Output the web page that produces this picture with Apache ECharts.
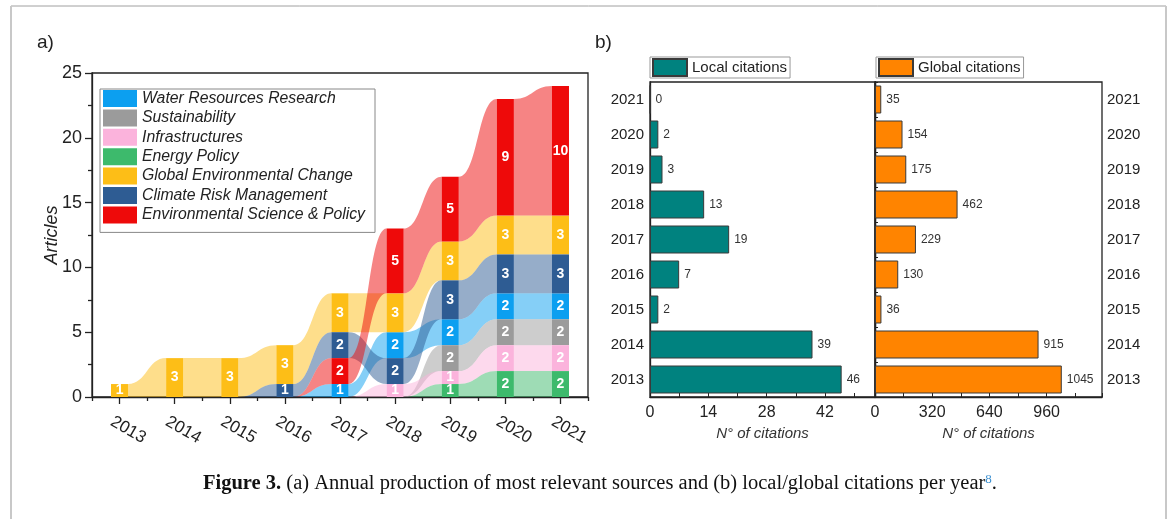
<!DOCTYPE html>
<html>
<head>
<meta charset="utf-8">
<script src="https://cdn.jsdelivr.net/npm/echarts@6/dist/echarts.min.js"></script>
<style>
  html, body { margin: 0; padding: 0; background: #fff; }
  #chart { width: 1170px; height: 519px; }
</style>
</head>
<body>
<div id="chart"></div>
<script>
// ---------------- DATA ----------------
const years = ['2013', '2014', '2015', '2016', '2017', '2018', '2019', '2020', '2021'];

const journals = ['Water Resources Research', 'Sustainability', 'Infrastructures', 'Energy Policy',
  'Global Environmental Change', 'Climate Risk Management', 'Environmental Science & Policy'];

// articles per year for each journal
const waterResources  = [0, 0, 0, 0, 1, 2, 2, 2, 2];
const sustainability  = [0, 0, 0, 0, 0, 0, 2, 2, 2];
const infrastructures = [0, 0, 0, 0, 0, 1, 1, 2, 2];
const energyPolicy    = [0, 0, 0, 0, 0, 0, 1, 2, 2];
const globalEnvChange = [1, 3, 3, 3, 3, 3, 3, 3, 3];
const climateRisk     = [0, 0, 0, 1, 2, 2, 3, 3, 3];
const envSciPolicy    = [0, 0, 0, 0, 2, 5, 5, 9, 10];

// stacking order in each year, bottom -> top (indices into journals)
const stackOrder = [
  [4], [4], [4], [5, 4], [0, 6, 5, 4], [2, 5, 0, 4, 6],
  [3, 2, 1, 0, 5, 4, 6], [3, 2, 1, 0, 5, 4, 6], [3, 2, 1, 0, 5, 4, 6]
];

const localCitations  = [46, 39, 2, 7, 19, 13, 3, 2, 0];
const globalCitations = [1045, 915, 36, 130, 229, 462, 175, 154, 35];

// ---------------- STYLE ----------------
const journalColors = ['#0c9ff0', '#9b9b9b', '#fbb3dc', '#3dba6c', '#fdbe17', '#2e5c93', '#ee0a0a'];
const FONT = 'Liberation Sans, Arial, sans-serif';

const values = [waterResources, sustainability, infrastructures, energyPolicy, globalEnvChange, climateRisk, envSciPolicy];
// base (bottom) of each journal in each year
const base = values.map(() => years.map(() => 0));
stackOrder.forEach((order, i) => {
  let acc = 0;
  order.forEach(j => { base[j][i] = acc; acc += values[j][i]; });
});

const chart = echarts.init(document.getElementById('chart'), null, { renderer: 'canvas' });

function ribbonRender(j) {
  return function (params, api) {
    const i = api.value(0);
    const band = api.size([1, 0])[0];
    const half = band * 0.155;
    const children = [];
    function seg(i0, b0, t0, i1, b1, t1) {
      const xa = api.coord([i0, 0])[0] + half;
      const xb = api.coord([i1, 0])[0] - half;
      const yb0 = api.coord([i0, b0])[1], yt0 = api.coord([i0, t0])[1];
      const yb1 = api.coord([i1, b1])[1], yt1 = api.coord([i1, t1])[1];
      const xm = (xa + xb) / 2;
      const d = 'M' + xa + ',' + yt0 + ' C' + xm + ',' + yt0 + ' ' + xm + ',' + yt1 + ' ' + xb + ',' + yt1 +
        ' L' + xb + ',' + yb1 + ' C' + xm + ',' + yb1 + ' ' + xm + ',' + yb0 + ' ' + xa + ',' + yb0 + ' Z';
      children.push({ type: 'path', shape: { pathData: d }, style: { fill: journalColors[j], opacity: 0.5 } });
    }
    const v = values[j][i];
    if (v > 0 && i + 1 < years.length && values[j][i + 1] > 0) {
      seg(i, base[j][i], base[j][i] + v, i + 1, base[j][i + 1], base[j][i + 1] + values[j][i + 1]);
    }
    if (v > 0 && i > 0 && values[j][i - 1] === 0) {
      seg(i - 1, 0, 0, i, base[j][i], base[j][i] + v);
    }
    return { type: 'group', children: children };
  };
}

function barRender(j) {
  return function (params, api) {
    const i = api.value(0);
    const v = values[j][i];
    if (!v) return null;
    const band = api.size([1, 0])[0];
    const w = band * 0.31;
    const cx = api.coord([i, 0])[0];
    const yTop = api.coord([i, base[j][i] + v])[1];
    const yBot = api.coord([i, base[j][i]])[1];
    return {
      type: 'rect',
      shape: { x: cx - w / 2, y: yTop, width: w, height: yBot - yTop },
      style: { fill: journalColors[j] },
      textContent: { type: 'text', style: { text: String(v), fill: '#fff', font: 'bold 14px ' + FONT } },
      textConfig: { position: 'inside' }
    };
  };
}

const series = [];
journals.forEach((name, j) => {
  const data = years.map((y, i) => [i, values[j][i]]).filter(d => d[1] > 0);
  series.push({
    type: 'custom', name: name, xAxisIndex: 0, yAxisIndex: 0, z: 1,
    itemStyle: { color: journalColors[j] },
    renderItem: ribbonRender(j), data: data, clip: false
  });
});
journals.forEach((name, j) => {
  const data = years.map((y, i) => [i, values[j][i]]).filter(d => d[1] > 0);
  series.push({
    type: 'custom', name: name, xAxisIndex: 0, yAxisIndex: 0, z: 3,
    itemStyle: { color: journalColors[j] },
    renderItem: barRender(j), data: data, clip: false
  });
});
series.push({
  type: 'bar', name: 'Local citations', xAxisIndex: 2, yAxisIndex: 1,
  data: localCitations, barWidth: '80%',
  itemStyle: { color: '#00827f', borderColor: '#3a3a3a', borderWidth: 1 },
  label: { show: true, position: 'right', distance: 5, color: '#333', fontSize: 12, fontFamily: FONT }
});
series.push({
  type: 'bar', name: 'Global citations', xAxisIndex: 3, yAxisIndex: 2,
  data: globalCitations, barWidth: '80%',
  itemStyle: { color: '#ff8400', borderColor: '#3a3a3a', borderWidth: 1 },
  label: { show: true, position: 'right', distance: 5, color: '#333', fontSize: 12, fontFamily: FONT }
});

const axisLine = { show: true, lineStyle: { color: '#222', width: 1.3 } };

const option = {
  animation: false,
  textStyle: { fontFamily: FONT },
  grid: [
    { left: 92, top: 73, width: 496, height: 324, show: true, borderColor: '#222', borderWidth: 1.3, backgroundColor: 'transparent' },
    { left: 650, top: 82, width: 225, height: 315, show: true, borderColor: '#222', borderWidth: 1.3, backgroundColor: 'transparent' },
    { left: 875, top: 82, width: 227, height: 315, show: true, borderColor: '#222', borderWidth: 1.3, backgroundColor: 'transparent' }
  ],
  xAxis: [
    { type: 'category', gridIndex: 0, data: years, boundaryGap: true,
      axisLine: axisLine,
      axisTick: { show: true, alignWithLabel: true, length: 7, lineStyle: { color: '#222', width: 1.3 } },
      axisLabel: { fontSize: 17, color: '#222', rotate: -30, align: 'center', verticalAlign: 'middle',
        margin: 28, padding: [0, 0, 0, 20] },
      splitLine: { show: false } },
    { type: 'category', gridIndex: 0, data: years, boundaryGap: true, position: 'bottom',
      axisLine: { show: false },
      axisTick: { show: true, alignWithLabel: false, length: 4, lineStyle: { color: '#222', width: 1.3 } },
      axisLabel: { show: false }, splitLine: { show: false } },
    { type: 'value', gridIndex: 1, min: 0, max: 54, interval: 7,
      axisLine: axisLine,
      axisTick: { show: true, inside: true, length: 4, lineStyle: { color: '#222' } },
      axisLabel: { fontSize: 16, color: '#222', margin: 8, formatter: v => (v % 14 === 0 ? String(v) : '') },
      splitLine: { show: false },
      name: 'N° of citations', nameLocation: 'middle', nameGap: 28,
      nameTextStyle: { fontStyle: 'italic', fontSize: 15, color: '#333' } },
    { type: 'value', gridIndex: 2, min: 0, max: 1270, interval: 160,
      axisLine: axisLine,
      axisTick: { show: true, inside: true, length: 4, lineStyle: { color: '#222' } },
      axisLabel: { fontSize: 16, color: '#222', margin: 8, formatter: v => (v % 320 === 0 ? String(v) : '') },
      splitLine: { show: false },
      name: 'N° of citations', nameLocation: 'middle', nameGap: 28,
      nameTextStyle: { fontStyle: 'italic', fontSize: 15, color: '#333' } }
  ],
  yAxis: [
    { type: 'value', gridIndex: 0, min: 0, max: 25, interval: 5,
      axisLine: axisLine,
      axisTick: { show: true, length: 7, lineStyle: { color: '#222', width: 1.3 } },
      minorTick: { show: true, splitNumber: 2, length: 4, lineStyle: { color: '#222', width: 1.3 } },
      axisLabel: { fontSize: 18, color: '#222', margin: 10 },
      splitLine: { show: false },
      name: 'Articles', nameLocation: 'middle', nameGap: 31, nameMoveOverlap: false,
      nameTextStyle: { fontStyle: 'italic', fontSize: 18, color: '#222' } },
    { type: 'category', gridIndex: 1, data: years,
      axisLine: axisLine, axisTick: { show: false },
      axisLabel: { fontSize: 15, color: '#222', margin: 6 } },
    { type: 'category', gridIndex: 2, data: years, position: 'right',
      axisLine: axisLine, axisTick: { show: false },
      axisLabel: { fontSize: 15, color: '#222', margin: 5 } },
    { type: 'category', gridIndex: 2, data: years, position: 'left',
      axisLine: axisLine,
      axisTick: { show: true, inside: true, length: 3, lineStyle: { color: '#222' } },
      axisLabel: { show: false } }
  ],
  legend: [
    { data: journals, orient: 'vertical', left: 100, top: 89, icon: 'rect',
      itemWidth: 34, itemHeight: 17, itemGap: 2.4, padding: [1, 10, 9, 3],
      borderColor: '#888', borderWidth: 1, selectedMode: false,
      textStyle: { fontSize: 15.8, fontStyle: 'italic', color: '#222', fontFamily: FONT } },
    { data: ['Local citations'], left: 650, top: 57, icon: 'rect',
      itemWidth: 34, itemHeight: 17, padding: [1, 3, 1, 2], borderColor: '#999', borderWidth: 1, selectedMode: false,
      textStyle: { fontSize: 15, color: '#222', fontFamily: FONT } },
    { data: ['Global citations'], left: 876, top: 57, icon: 'rect',
      itemWidth: 34, itemHeight: 17, padding: [1, 3, 1, 2], borderColor: '#999', borderWidth: 1, selectedMode: false,
      textStyle: { fontSize: 15, color: '#222', fontFamily: FONT } }
  ],
  graphic: [
    { type: 'line', shape: { x1: 11, y1: 6, x2: 1166, y2: 6 }, style: { stroke: '#a0a0a0', lineWidth: 1 } },
    { type: 'line', shape: { x1: 11, y1: 6, x2: 11, y2: 519 }, style: { stroke: '#c8c8c8', lineWidth: 2 } },
    { type: 'line', shape: { x1: 1166, y1: 6, x2: 1166, y2: 519 }, style: { stroke: '#c8c8c8', lineWidth: 2 } },
    { type: 'text', x: 37, y: 43, style: { text: 'a)', font: '19px ' + FONT, fill: '#222', verticalAlign: 'middle' } },
    { type: 'text', x: 595, y: 43, style: { text: 'b)', font: '19px ' + FONT, fill: '#222', verticalAlign: 'middle' } },
    { type: 'text', x: 600, y: 484,
      style: {
        text: '{b|Figure 3.} (a) Annual production of most relevant sources and (b) local/global citations per year{s|8}.',
        font: '20.5px Liberation Serif, serif', fill: '#111', align: 'center', verticalAlign: 'middle',
        rich: {
          b: { font: 'bold 20.5px Liberation Serif, serif', fill: '#111' },
          s: { font: '13px Liberation Serif, serif', fill: '#3a8fd0', verticalAlign: 'top', padding: [0, 0, 6, 0] }
        }
      } }
  ],
  series: series
};
chart.setOption(option);
</script>
</body>
</html>
